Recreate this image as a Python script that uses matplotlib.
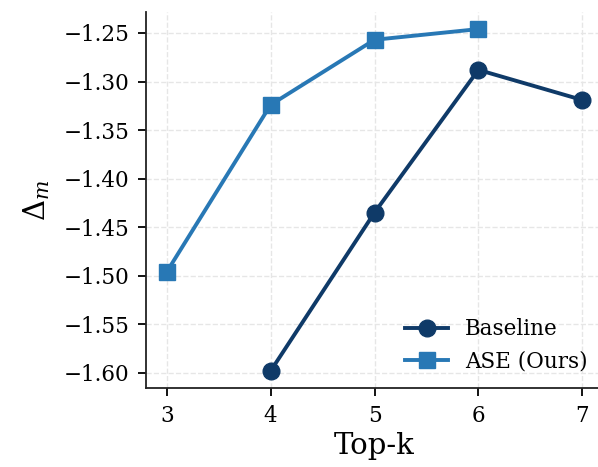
import matplotlib
matplotlib.use("Agg")
import matplotlib.pyplot as plt

top_k = [3, 4, 5, 6, 7]
baseline_k = [4, 5, 6, 7]
baseline_vals = [-1.598, -1.435, -1.288, -1.319]
ase_k = [3, 4, 5, 6]
ase_vals = [-1.496, -1.324, -1.257, -1.246]
y_ticks = [-1.60, -1.55, -1.50, -1.45, -1.40, -1.35, -1.30, -1.25]

plt.rcParams["font.family"] = "DejaVu Serif"
plt.rcParams["mathtext.fontset"] = "dejavuserif"

fig = plt.figure(figsize=(5.98, 4.67), dpi=100)
ax = fig.add_axes([146 / 598, 1 - 388 / 467, 457 / 598, 376 / 467])

ax.plot(baseline_k, baseline_vals, marker="o", color="#0f3a68", lw=2.8,
        markersize=12, label="Baseline")
ax.plot(ase_k, ase_vals, marker="s", color="#2878b5", lw=2.8,
        markersize=12, label="ASE (Ours)")

ax.set_xticks(top_k)
ax.set_yticks(y_ticks)
ax.set_yticklabels([f"{v:.2f}".replace("-", "\u2212") for v in y_ticks])
ax.tick_params(labelsize=15.5, length=6, width=1.3, direction="out", pad=6)
ax.grid(True, linestyle="--", color="#e6e6e6", lw=1)
ax.set_axisbelow(True)
for s in ["top", "right"]:
    ax.spines[s].set_visible(False)
for s in ["left", "bottom"]:
    ax.spines[s].set_linewidth(1.3)
    ax.spines[s].set_color("#222222")

ax.set_xlabel("Top-k", fontsize=21, labelpad=4)
ax.set_ylabel(r"$\Delta_m$", fontsize=21, labelpad=8)
ax.legend(loc="lower right", frameon=False, fontsize=15.5, handlelength=2.0,
          borderaxespad=0.3)

fig.savefig("out.png", dpi=100)
